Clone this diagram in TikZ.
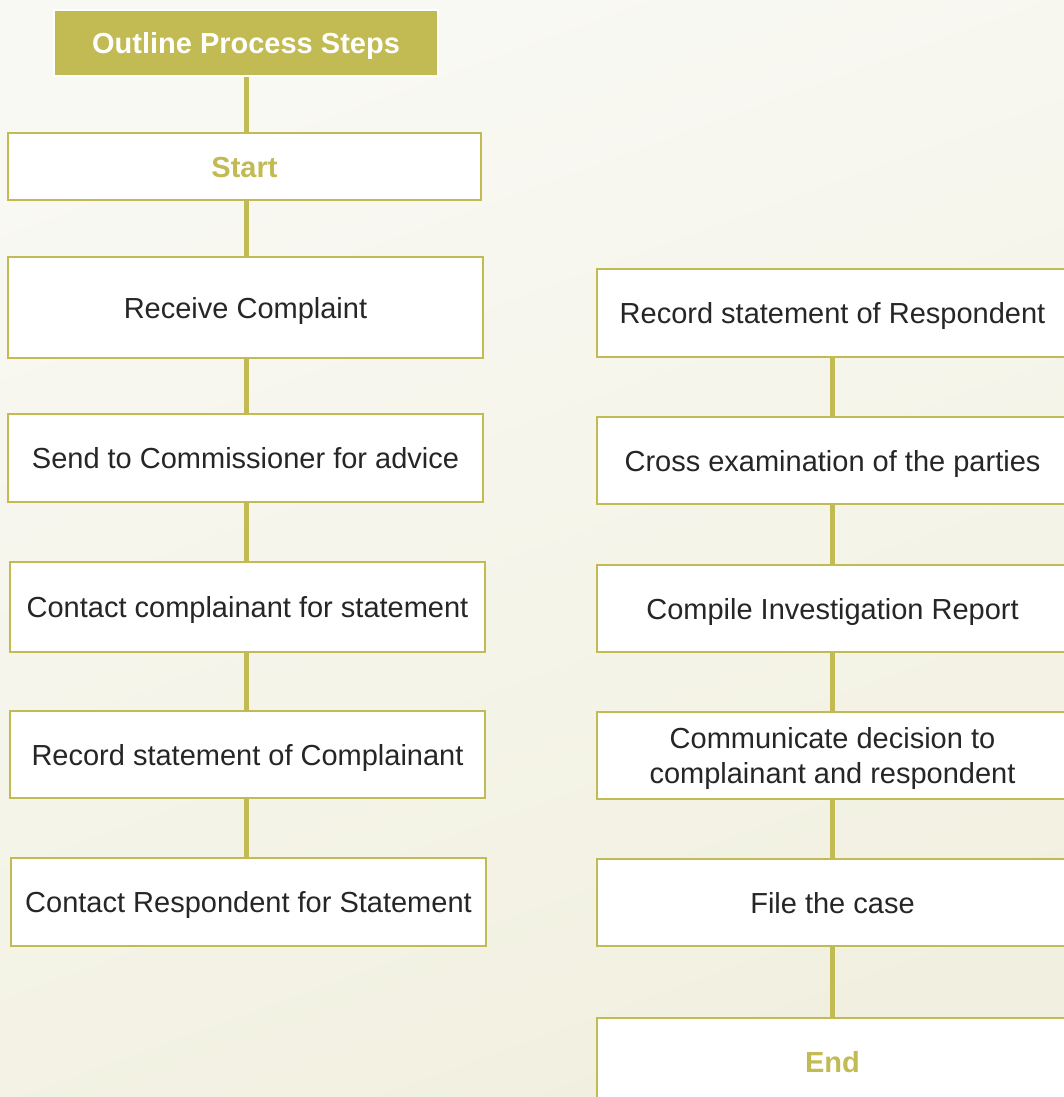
\documentclass[tikz,border=0pt]{standalone}
\usepackage{fontspec}
\setmainfont{Liberation Sans}
\usetikzlibrary{backgrounds}
\definecolor{olive}{HTML}{C2BA52}
\definecolor{bgA}{HTML}{F1F0E0}
\definecolor{bgB}{HTML}{F9F9F4}
\tikzset{
  box/.style={draw=olive, line width=2.6pt, fill=white, rectangle, inner sep=0pt,
    font=\fontsize{29}{35}\selectfont, text=black!85, align=center,
    text height=21pt, text depth=0pt},
  titlebox/.style={draw=white, line width=2.2pt, fill=olive, rectangle, inner sep=0pt,
    font=\fontsize{29}{35}\selectfont\bfseries, text=white,
    text height=21pt, text depth=0pt},
  termbox/.style={box, font=\fontsize{29}{35}\selectfont\bfseries, text=olive},
  conn/.style={draw=olive, line width=5pt}
}
\begin{document}
\begin{tikzpicture}[x=1pt,y=-1pt]
\useasboundingbox (0,0) rectangle (1064,1097);
\begin{scope}
\clip (0,0) rectangle (1064,1097);
% left column
\node[titlebox, minimum width=384pt, minimum height=66pt] (title) at (246,43) {Outline Process Steps};
\node[termbox, minimum width=473pt, minimum height=67pt] (start) at (244.5,166.5) {Start};
\node[box, minimum width=475pt, minimum height=101pt] (receive) at (245.5,307.5) {Receive Complaint};
\node[box, minimum width=475pt, minimum height=88pt] (send) at (245.5,458) {Send to Commissioner for advice};
\node[box, minimum width=475pt, minimum height=90pt] (contactC) at (247.5,607) {Contact complainant for statement};
\node[box, minimum width=475pt, minimum height=87pt] (recordC) at (247.5,754.5) {Record statement of Complainant};
\node[box, minimum width=475pt, minimum height=88pt] (contactR) at (248.5,902) {Contact Respondent for Statement};
% right column
\node[box, minimum width=471pt, minimum height=88pt] (recordR) at (832.5,313) {Record statement of Respondent};
\node[box, minimum width=471pt, minimum height=87pt] (cross) at (832.5,460.5) {Cross examination of the parties};
\node[box, minimum width=471pt, minimum height=87pt] (compile) at (832.5,608.5) {Compile Investigation Report};
\node[box, minimum width=471pt, minimum height=87pt, text height=56pt, text depth=0pt] (comm) at (832.5,755.5) {Communicate decision to\\complainant and respondent};
\node[box, minimum width=471pt, minimum height=87pt] (file) at (832.5,902.5) {File the case};
\node[termbox, minimum width=471pt, minimum height=88pt] (end) at (832.5,1062) {End};
\end{scope}
\begin{scope}[on background layer]
\shade[bottom color=bgA, top color=bgB, shading angle=20] (0,0) rectangle (1064,1097);
\draw[conn] (title.south) -- (title.south |- start.north);
\draw[conn] (title.south |- start.south) -- (title.south |- receive.north);
\draw[conn] (title.south |- receive.south) -- (title.south |- send.north);
\draw[conn] (title.south |- send.south) -- (title.south |- contactC.north);
\draw[conn] (title.south |- contactC.south) -- (title.south |- recordC.north);
\draw[conn] (title.south |- recordC.south) -- (title.south |- contactR.north);
\draw[conn] (recordR.south) -- (recordR.south |- cross.north);
\draw[conn] (cross.south) -- (cross.south |- compile.north);
\draw[conn] (compile.south) -- (compile.south |- comm.north);
\draw[conn] (comm.south) -- (comm.south |- file.north);
\draw[conn] (file.south) -- (file.south |- end.north);
\end{scope}
\end{tikzpicture}
\end{document}
